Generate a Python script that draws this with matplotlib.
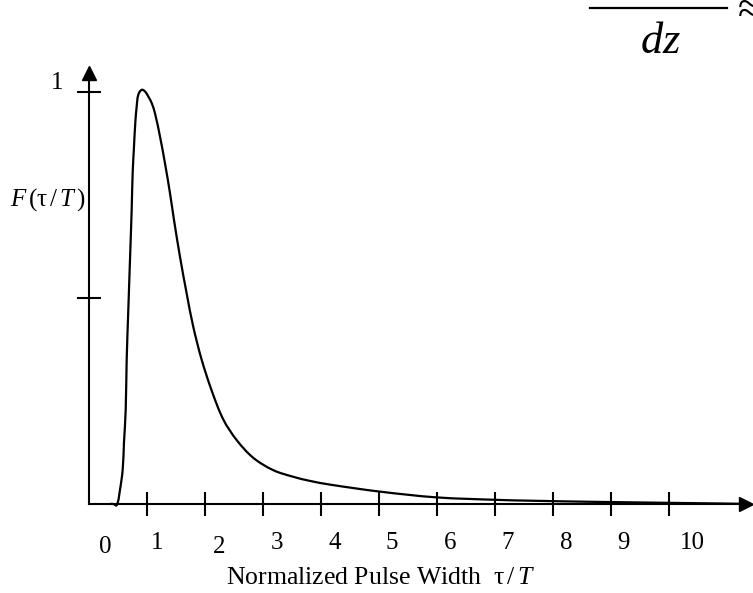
import matplotlib
matplotlib.use("Agg")
import matplotlib.pyplot as plt
import numpy as np
from matplotlib.path import Path
from matplotlib.patches import PathPatch

plt.rcParams['font.family'] = ['Liberation Serif', 'DejaVu Serif']
plt.rcParams['mathtext.fontset'] = 'custom'
plt.rcParams['mathtext.rm'] = 'Liberation Serif'
plt.rcParams['mathtext.it'] = 'Liberation Serif:italic'

# Curve (tau/T, F)
tau = [0.362, 0.419, 0.478, 0.534, 0.581, 0.603, 0.633, 0.650, 0.678, 0.707,
       0.736, 0.753, 0.776, 0.798, 0.822, 0.850, 0.909, 0.966, 1.022, 1.081,
       1.138, 1.224, 1.310, 1.397, 1.466, 1.569, 1.684, 1.798, 1.943, 2.116,
       2.316, 2.547, 2.833, 3.178, 3.522, 3.810, 4.155, 5.017, 5.995, 7.029,
       7.603, 8.810, 10.995, 11.40]
F = [0.000, 0.000, -0.003, 0.034, 0.083, 0.148, 0.228, 0.350, 0.471, 0.592,
     0.714, 0.803, 0.867, 0.924, 0.964, 0.993, 1.005, 1.001, 0.989, 0.973,
     0.948, 0.892, 0.827, 0.754, 0.689, 0.600, 0.511, 0.430, 0.350, 0.275,
     0.205, 0.155, 0.112, 0.082, 0.066, 0.056, 0.047, 0.030, 0.016, 0.010,
     0.008, 0.005, 0.001, 0.000]

x_ticks = [1, 2, 3, 4, 5, 6, 7, 8, 9, 10]
x_tick_labels = ['0', '1', '2', '3', '4', '5', '6', '7', '8', '9', '10']
y_ticks = [0.5, 1.0]
y_tick_labels = ['', '1']

# label placement tweaks (layout only)
lab_dx = [0.28, 0.17, 0.24, 0.24, 0.24, 0.22, 0.22, 0.22, 0.22, 0.22, 0.40]
lab_y = [-0.104, -0.095, -0.104, -0.095, -0.095, -0.095, -0.095, -0.095,
         -0.095, -0.095, -0.095]

fig = plt.figure(figsize=(7.53, 5.93), dpi=100)
ax = fig.add_axes([0, 0, 1, 1])
ax.set_xlim(-1.534, 11.448)
ax.set_ylim(-0.216, 1.223)
ax.patch.set_alpha(0)

for s in ['top', 'right']:
    ax.spines[s].set_visible(False)
ax.spines['left'].set_position(('data', 0))
ax.spines['bottom'].set_position(('data', 0))
ax.spines['left'].set_bounds(0, 1.04)
ax.spines['bottom'].set_bounds(0, 11.3)
for s in ['left', 'bottom']:
    ax.spines[s].set_linewidth(1.5)

ax.set_xticks(x_ticks)
ax.set_yticks(y_ticks)
ax.tick_params(axis='both', direction='inout', length=17.5, width=1.5,
               labelbottom=False, labelleft=False)

# arrow heads
ax.plot([11.33], [0], marker='>', markersize=10, color='black', clip_on=False)
ax.plot([0], [1.045], marker='^', markersize=10, color='black', clip_on=False)

# smooth curve drawn through the read points (Bezier path in data coordinates)
sx, sy = 58.0, 412.0  # aspect of data units on screen, used for tangent geometry
P = np.column_stack([np.array(tau) * sx, np.array(F) * sy])
n = len(P)
tang = np.zeros_like(P)
for i in range(n):
    a = P[max(i - 1, 0)]
    b = P[min(i + 1, n - 1)]
    d = b - a
    tang[i] = d / (np.hypot(*d) + 1e-12)
verts = [P[0]]
codes = [Path.MOVETO]
for i in range(n - 1):
    L = np.hypot(*(P[i + 1] - P[i]))
    verts += [P[i] + tang[i] * L / 3, P[i + 1] - tang[i + 1] * L / 3, P[i + 1]]
    codes += [Path.CURVE4] * 3
verts = np.array(verts) / np.array([sx, sy])
ax.add_patch(PathPatch(Path(verts, codes), facecolor='none', edgecolor='black',
                       linewidth=1.6, joinstyle='round', capstyle='round'))

# tick labels
for i, lab in enumerate(x_tick_labels):
    ax.text(i + lab_dx[i], lab_y[i], lab, ha='center', va='center', fontsize=18)
ax.text(-0.55, 1.022, y_tick_labels[1], ha='center', va='center', fontsize=18)

ax.text(-0.707, 0.738, r'$F\,(\mathrm{\tau}\,/\,T\,)$', ha='center', va='center',
        fontsize=18)
ax.text(5.02, -0.18, r'Normalized Pulse Width  $\mathrm{\tau}\,/\,T$', ha='center',
        va='center', fontsize=18.5)

# fragment of equation at top right
fig.add_artist(plt.Line2D([590 / 753, 727 / 753], [1 - 8 / 593, 1 - 8 / 593],
                          color='black', linewidth=1.6))
fig.text(660 / 753, 1 - 42 / 593, r'$dz$', ha='center', va='center', fontsize=32)
fig.text(687 / 753, 1 - 3 / 593, 'NPM', ha='center', va='bottom', fontsize=16)
fig.text(749 / 753, 1 - 12 / 593, '≈', ha='center', va='center', fontsize=30)

fig.savefig('out.png', dpi=100)
